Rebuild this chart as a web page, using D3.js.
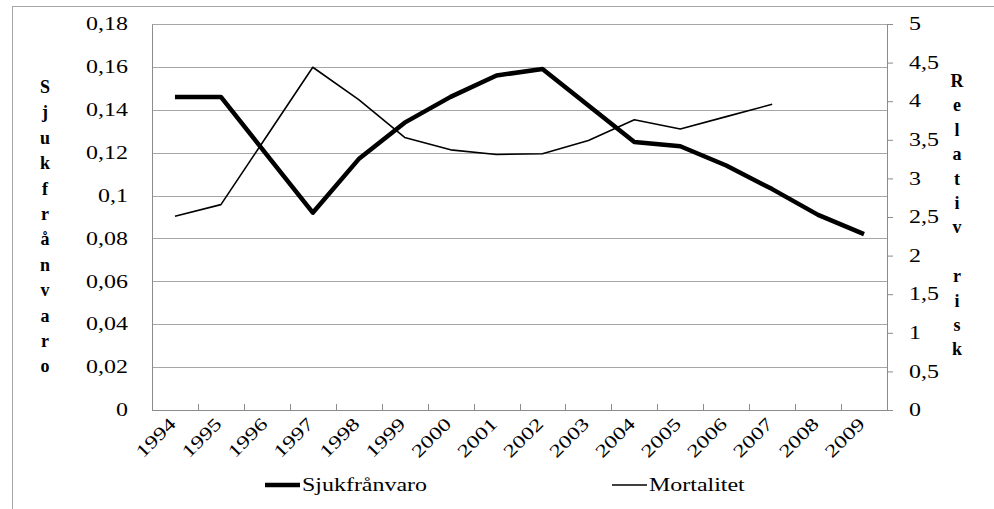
<!DOCTYPE html>
<html>
<head>
<meta charset="utf-8">
<script src="https://cdn.jsdelivr.net/npm/d3@7"></script>
<style>
  body { margin: 0; background: #fff; }
  text { font-family: "Liberation Serif", "Times New Roman", Times, serif; fill: #000; }
</style>
</head>
<body>
<svg id="chart"></svg>
<script>
// data
const years = ['1994','1995','1996','1997','1998','1999','2000','2001','2002','2003','2004','2005','2006','2007','2008','2009'];
const sjukfranvaro = [0.146, 0.146, 0.119, 0.092, 0.117, 0.134, 0.146, 0.156, 0.159, 0.142, 0.125, 0.123, 0.114, 0.103, 0.091, 0.082];
const mortalitet = [2.51, 2.66, 3.55, 4.44, 4.02, 3.53, 3.37, 3.31, 3.32, 3.49, 3.76, 3.64, 3.80, 3.96, null, null];
const leftTicks = [0, 0.02, 0.04, 0.06, 0.08, 0.1, 0.12, 0.14, 0.16, 0.18];
const rightTicks = [0, 0.5, 1, 1.5, 2, 2.5, 3, 3.5, 4, 4.5, 5];
const leftTitle = 'Sjukfrånvaro';
const rightTitle = 'Relativ risk';

const width = 994, height = 509;
const margin = {top: 24, right: 107, bottom: 99, left: 152};
const innerW = width - margin.left - margin.right;
const innerH = height - margin.top - margin.bottom;
const stretch = 1.33; // text in the picture is drawn wider than normal

const svg = d3.select('#chart').attr('width', width).attr('height', height);

// frame around chart
svg.append('rect')
    .attr('x', 12.5).attr('y', 6.5)
    .attr('width', 1100).attr('height', 700)
    .attr('fill', 'none').attr('stroke', '#a6a6a6');

const g = svg.append('g').attr('transform', `translate(${margin.left},${margin.top})`);

const x = d3.scaleBand().domain(years).range([0, innerW]);
const yL = d3.scaleLinear().domain([0, 0.18]).range([innerH, 0]);
const yR = d3.scaleLinear().domain([0, 5]).range([innerH, 0]);

const fmt = v => String(v).replace('.', ',');

function widen(sel) {
    sel.each(function() {
        const w = this.getComputedTextLength();
        d3.select(this).attr('textLength', w * stretch).attr('lengthAdjust', 'spacingAndGlyphs');
    });
}

// gridlines
g.selectAll('.grid').data(leftTicks.slice(1)).join('line')
    .attr('x1', 0).attr('x2', innerW)
    .attr('y1', d => Math.round(yL(d)) + 0.5).attr('y2', d => Math.round(yL(d)) + 0.5)
    .attr('stroke', '#a6a6a6').attr('stroke-width', 1);

// left axis
const leftAxis = g.append('g')
    .call(d3.axisLeft(yL).tickValues(leftTicks).tickSize(0).tickPadding(24).tickFormat(fmt));
leftAxis.attr('font-family', null);
leftAxis.select('.domain').attr('stroke', '#8c8c8c');
leftAxis.selectAll('text').attr('font-size', 18).call(widen);

// right axis
const rightAxis = g.append('g').attr('transform', `translate(${innerW},0)`)
    .call(d3.axisRight(yR).tickValues(rightTicks).tickSize(6).tickSizeOuter(0).tickPadding(16).tickFormat(fmt));
rightAxis.attr('font-family', null);
rightAxis.select('.domain').attr('stroke', '#8c8c8c');
rightAxis.selectAll('line').attr('stroke', '#8c8c8c');
rightAxis.selectAll('text').attr('font-size', 18).call(widen);

// bottom axis, ticks at category boundaries pointing up
const xb = g.append('g').attr('transform', `translate(0,${innerH})`);
xb.append('line').attr('x1', 0).attr('x2', innerW).attr('y1', 0.5).attr('y2', 0.5).attr('stroke', '#8c8c8c');
xb.selectAll('.tk').data(years.slice(1)).join('line')
    .attr('x1', d => Math.round(x(d)) + 0.5).attr('x2', d => Math.round(x(d)) + 0.5)
    .attr('y1', 0).attr('y2', -6).attr('stroke', '#8c8c8c');
xb.selectAll('.yl').data(years).join('text')
    .attr('transform', d => `translate(${x(d) + x.bandwidth() / 2 - 7},${6}) rotate(-45)`)
    .attr('text-anchor', 'end')
    .attr('dy', '0.7em')
    .attr('font-size', 18)
    .text(d => d)
    .call(widen);

// lines
const lineL = d3.line()
    .x((d, i) => x(years[i]) + x.bandwidth() / 2)
    .y(d => yL(d));
const lineR = d3.line()
    .defined(d => d != null)
    .x((d, i) => x(years[i]) + x.bandwidth() / 2)
    .y(d => yR(d));

g.append('path').datum(mortalitet)
    .attr('d', lineR).attr('fill', 'none')
    .attr('stroke', '#000').attr('stroke-width', 1.6).attr('stroke-linejoin', 'round');
g.append('path').datum(sjukfranvaro)
    .attr('d', lineL).attr('fill', 'none')
    .attr('stroke', '#000').attr('stroke-width', 4.5).attr('stroke-linejoin', 'round');

// vertical axis titles, one letter per row
svg.selectAll('.lt').data(leftTitle.split('')).join('text')
    .attr('x', 45).attr('y', (d, i) => 93 + i * 25.4)
    .attr('text-anchor', 'middle').attr('font-size', 18).attr('font-weight', 'bold')
    .text(d => d);
svg.selectAll('.rt').data(rightTitle.split('')).join('text')
    .attr('x', 957).attr('y', (d, i) => 87 + i * 24.4)
    .attr('text-anchor', 'middle').attr('font-size', 18).attr('font-weight', 'bold')
    .text(d => d);

// legend
const legend = [
    {name: 'Sjukfrånvaro', w: 4.5, x: 265},
    {name: 'Mortalitet', w: 1.6, x: 612}
];
const lg = svg.selectAll('.lg').data(legend).join('g')
    .attr('transform', d => `translate(${d.x},485)`);
lg.append('line').attr('x1', 0).attr('x2', 35).attr('y1', 0).attr('y2', 0)
    .attr('stroke', '#000').attr('stroke-width', d => d.w);
lg.append('text').attr('x', 37).attr('y', 6)
    .attr('font-size', 18)
    .text(d => d.name)
    .call(widen);
</script>
</body>
</html>
